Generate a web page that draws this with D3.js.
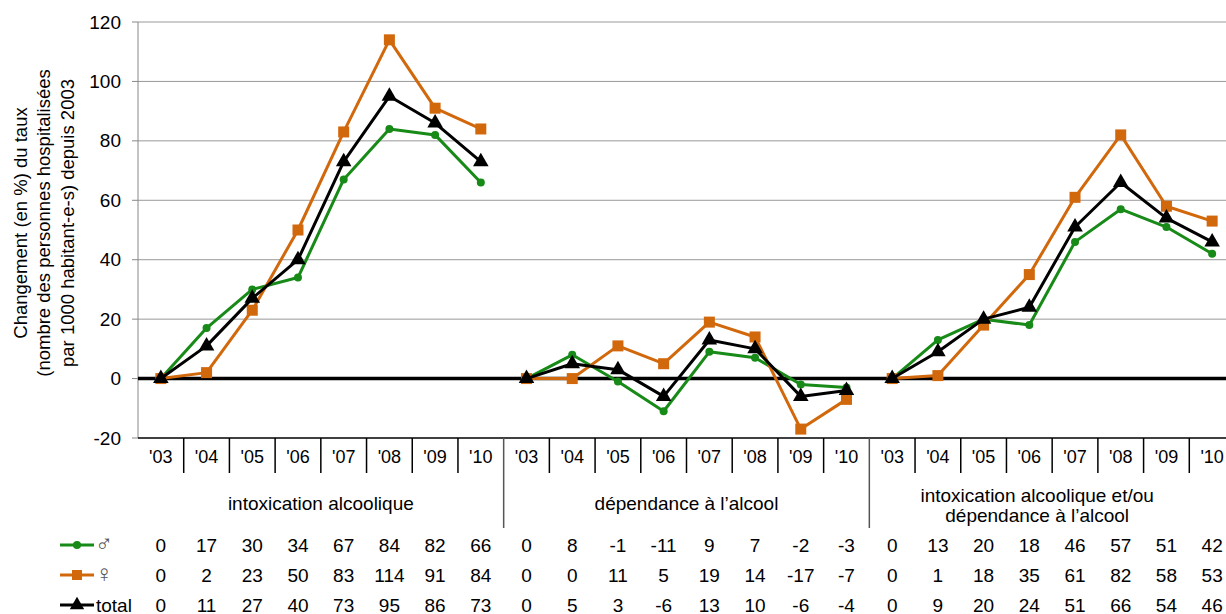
<!DOCTYPE html>
<html>
<head>
<meta charset="utf-8">
<script src="https://cdn.jsdelivr.net/npm/d3@7"></script>
<style>
  body { margin: 0; background: #fff; }
  svg text { font-family: "Liberation Sans", Arial, sans-serif; fill: #000; }
</style>
</head>
<body>
<div id="chart"></div>
<script>
// données
const years = ["'03", "'04", "'05", "'06", "'07", "'08", "'09", "'10"];
const groups = ["intoxication alcoolique", "dépendance à l’alcool", "intoxication alcoolique et/ou\ndépendance à l’alcool"];
const hommes = [0, 17, 30, 34, 67, 84, 82, 66,  0, 8, -1, -11, 9, 7, -2, -3,  0, 13, 20, 18, 46, 57, 51, 42];
const femmes = [0, 2, 23, 50, 83, 114, 91, 84,  0, 0, 11, 5, 19, 14, -17, -7,  0, 1, 18, 35, 61, 82, 58, 53];
const total  = [0, 11, 27, 40, 73, 95, 86, 73,  0, 5, 3, -6, 13, 10, -6, -4,  0, 9, 20, 24, 51, 66, 54, 46];
const yTicks = [-20, 0, 20, 40, 60, 80, 100, 120];

const series = [
  { name: '♂', values: hommes, color: '#178a17', marker: 'circle' },
  { name: '♀', values: femmes, color: '#d2680c', marker: 'square' },
  { name: 'total', values: total, color: '#000', marker: 'triangle' }
];

const width = 1226, height = 614;
const pLeft = 138, pRight = 1235, pTop = 22, pBottom = 438;   // zone du graphique (coupée à droite comme l'original)

const svg = d3.select('#chart').append('svg')
  .attr('width', width).attr('height', height);

const idx = d3.range(groups.length * years.length);
const x = d3.scaleBand().domain(idx).range([pLeft, pRight]);
const y = d3.scaleLinear().domain([-20, 120]).range([pBottom, pTop]);

// grille horizontale
svg.append('g').selectAll('line')
  .data(yTicks.filter(t => t > 0))
  .enter().append('line')
  .attr('x1', pLeft).attr('x2', pRight)
  .attr('y1', d => y(d)).attr('y2', d => y(d))
  .attr('stroke', '#999').attr('stroke-width', 1);

// axe vertical
svg.append('line')
  .attr('x1', pLeft).attr('x2', pLeft).attr('y1', pTop).attr('y2', pBottom)
  .attr('stroke', '#888');
svg.append('g').selectAll('line')
  .data(yTicks).enter().append('line')
  .attr('x1', pLeft - 6).attr('x2', pLeft)
  .attr('y1', d => y(d)).attr('y2', d => y(d))
  .attr('stroke', '#888');
svg.append('g').selectAll('text')
  .data(yTicks).enter().append('text')
  .attr('x', pLeft - 17).attr('y', d => y(d))
  .attr('text-anchor', 'end').attr('dominant-baseline', 'central')
  .style('font-size', '19px')
  .text(d => d);

// titre de l'axe Y
const titleLines = ['Changement (en %) du taux', '(nombre des personnes hospitalisées', 'par 1000 habitant-e-s) depuis 2003'];
svg.append('g')
  .attr('transform', 'translate(20,223) rotate(-90)')
  .selectAll('text').data(titleLines).enter().append('text')
  .attr('x', 0).attr('y', (d, i) => i * 23.5)
  .attr('text-anchor', 'middle').attr('dominant-baseline', 'central')
  .style('font-size', '18.5px')
  .text(d => d);

// axe des catégories
svg.append('line')
  .attr('x1', pLeft).attr('x2', pRight).attr('y1', pBottom).attr('y2', pBottom)
  .attr('stroke', '#000').attr('stroke-width', 1.5);
svg.append('g').selectAll('line')
  .data(idx.slice(1)).enter().append('line')
  .attr('x1', d => x(d)).attr('x2', d => x(d))
  .attr('y1', pBottom).attr('y2', d => d % years.length === 0 ? 528 : 473)
  .attr('stroke', d => d % years.length === 0 ? '#555' : '#000')
  .attr('stroke-width', 1.5);
svg.append('g').selectAll('text')
  .data(idx).enter().append('text')
  .attr('x', d => x(d) + x.bandwidth() / 2).attr('y', 457)
  .attr('text-anchor', 'middle').attr('dominant-baseline', 'central')
  .style('font-size', '18px')
  .text(d => years[d % years.length]);

// libellés de groupe
groups.forEach((g, gi) => {
  const gx = x(gi * years.length) + x.step() * years.length / 2;
  const lines = g.split('\n');
  lines.forEach((t, li) => {
    svg.append('text')
      .attr('x', gi === 2 ? gx - 15 : gx)
      .attr('y', lines.length === 1 ? 503 : 495 + li * 20)
      .attr('text-anchor', 'middle').attr('dominant-baseline', 'central')
      .style('font-size', '19px')
      .text(t);
  });
});

// ligne zéro
svg.append('line')
  .attr('x1', pLeft).attr('x2', pRight).attr('y1', y(0)).attr('y2', y(0))
  .attr('stroke', '#000').attr('stroke-width', 3.5);

const cx = i => x(i) + x.bandwidth() / 2;

function drawMarker(sel, s, size) {
  if (s.marker === 'circle') {
    sel.append('circle').attr('r', size || 4).attr('fill', s.color);
  } else if (s.marker === 'square') {
    const a = size || 11;
    sel.append('rect').attr('x', -a / 2).attr('y', -a / 2).attr('width', a).attr('height', a).attr('fill', s.color);
  } else {
    sel.append('path').attr('d', d3.symbol(d3.symbolTriangle, size || 105)()).attr('fill', s.color);
  }
}

// séries
const line = d3.line().x(d => cx(d.i)).y(d => y(d.v));
series.forEach(s => {
  const g = svg.append('g');
  groups.forEach((gr, gi) => {
    const pts = years.map((yr, k) => ({ i: gi * years.length + k, v: s.values[gi * years.length + k] }));
    g.append('path').datum(pts)
      .attr('d', line).attr('fill', 'none')
      .attr('stroke', s.color).attr('stroke-width', 3)
      .attr('stroke-linejoin', 'round');
    pts.forEach(p => {
      const m = g.append('g').attr('transform', `translate(${cx(p.i)},${y(p.v)})`);
      drawMarker(m, s);
    });
  });
});

// tableau de données
const rowY = [545, 575, 605];
series.forEach((s, si) => {
  const ry = rowY[si];
  svg.append('line')
    .attr('x1', 60).attr('x2', 94).attr('y1', ry).attr('y2', ry)
    .attr('stroke', s.color).attr('stroke-width', 3);
  const m = svg.append('g').attr('transform', `translate(77,${ry})`);
  drawMarker(m, s, s.marker === 'circle' ? 4 : s.marker === 'square' ? 10 : 90);
  svg.append('text')
    .attr('x', s.name === 'total' ? 96 : 95).attr('y', s.name === 'total' ? ry : ry - 1)
    .attr('dominant-baseline', 'central')
    .style('font-size', s.name === 'total' ? '19px' : '24px')
    .style('fill', s.name === 'total' ? '#000' : '#555')
    .style('font-family', s.name === 'total' ? null : '"DejaVu Sans", sans-serif')
    .style('font-weight', s.name === 'total' ? null : '200')
    .text(s.name);
  svg.append('g').selectAll('text')
    .data(s.values).enter().append('text')
    .attr('x', (d, i) => cx(i)).attr('y', ry)
    .attr('text-anchor', 'middle').attr('dominant-baseline', 'central')
    .style('font-size', '19px')
    .text(d => d);
});
</script>
</body>
</html>
